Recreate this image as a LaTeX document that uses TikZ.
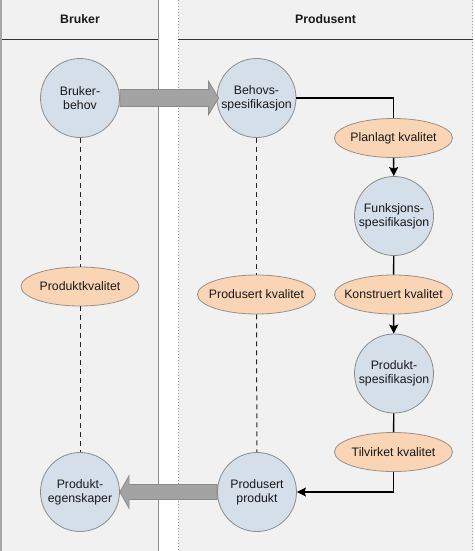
\documentclass[tikz,border=0pt]{standalone}
\usepackage{fontspec}
\setmainfont{Liberation Sans}
\usetikzlibrary{shapes.geometric,arrows.meta,calc}
\definecolor{panebg}{HTML}{F1F1F1}
\definecolor{circfill}{HTML}{D5DFEA}
\definecolor{circline}{HTML}{8C8C8C}
\definecolor{ellfill}{HTML}{F9D4B5}
\definecolor{ellline}{HTML}{9A9088}
\definecolor{bigarr}{HTML}{A3A3A3}
\definecolor{bigarrline}{HTML}{8A8A8A}
\newcommand{\qtext}[1]{\makebox[0pt]{#1}}
\tikzset{
  every node/.style={font=\fontsize{12.3}{13.8}\selectfont, align=center, text=black!90},
  circ/.style={circle, draw=circline, fill=circfill, line width=0.8pt, minimum size=79pt, inner sep=0pt},
  qual/.style={ellipse, draw=ellline, fill=ellfill, line width=0.8pt, minimum width=118pt, minimum height=39pt, inner sep=0pt},
  conn/.style={draw=black, line width=1.4pt},
  connarr/.style={conn, -{Stealth[length=9pt,width=9pt,inset=1.5pt]}},
  dashlink/.style={draw=black!85, line width=1pt, dash pattern=on 5pt off 4pt},
  big/.style={fill=bigarr, draw=bigarrline, line width=0.8pt},
  hdr/.style={font=\bfseries\fontsize{12.3}{14}\selectfont}
}
\begin{document}
\begin{tikzpicture}[x=1pt,y=-1pt]
\useasboundingbox (0,0) rectangle (474,551);
\fill[white] (0,0) rectangle (474,551);
% panes
\fill[panebg] (2,0) rectangle (158,551);
\draw[black!35, line width=2pt] (1,0) -- (1,551);
\draw[black!45, line width=1pt] (158,0) -- (158,551);
\fill[panebg] (178,0) rectangle (472.5,551);
\draw[black!40, line width=1pt, dotted] (178,0) -- (178,551);
\draw[black!40, line width=1pt, dotted] (472.5,0) -- (472.5,551);
\draw[black!80, line width=1.2pt] (2,39.5) -- (158,39.5);
\draw[black!80, line width=1.2pt] (178,39.5) -- (472.5,39.5);
\node[hdr] (hb) at (80,19) {Bruker};
\node[hdr] (hp) at (325.5,19) {Produsent};
% nodes
\node[circ] (bb) at (80,98) {Bruker-\\behov};
\node[circ] (bs) at (256.5,98) {Behovs-\\spesifikasjon};
\node[qual] (pk) at (393.5,138) {\qtext{Planlagt kvalitet}};
\node[circ] (fs) at (394,216) {Funksjons-\\spesifikasjon};
\node[qual] (pkv) at (80,286.5) {\qtext{Produktkvalitet}};
\node[qual] (prk) at (256.5,294.5) {\qtext{Produsert kvalitet}};
\node[qual] (kk) at (393.5,294.5) {\qtext{Konstruert kvalitet}};
\node[circ] (ps) at (394,373.5) {Produkt-\\spesifikasjon};
\node[qual] (tk) at (393.5,452) {\qtext{Tilvirket kvalitet}};
\node[circ] (pe) at (80,492) {Produkt-\\egenskaper};
\node[circ] (pp) at (257,492) {Produsert\\produkt};
% dashed links
\draw[dashlink] (bb) -- (pkv);
\draw[dashlink] (pkv) -- (pe);
\draw[dashlink] (bs) -- (prk);
\draw[dashlink] (prk) -- (pp);
% solid flow
\draw[conn] (bs.east) -| (pk.north);
\draw[connarr] (pk) -- (fs);
\draw[conn] (fs) -- (kk);
\draw[connarr] (kk) -- (ps);
\draw[conn] (ps) -- (tk);
\draw[connarr] (tk.south) |- (pp.east);
% big arrows
\draw[big] ($(bb.east)+(0,-8.5)$) -- ($(bs.west)+(-8,-8.5)$) -- ($(bs.west)+(-8,-16.5)$)
  -- ($(bs.west)+(2,0)$) -- ($(bs.west)+(-8,16.5)$) -- ($(bs.west)+(-8,8.5)$)
  -- ($(bb.east)+(0,8.5)$) -- cycle;
\draw[big] ($(pp.west)+(0,-7.5)$) -- ($(pe.east)+(9,-7.5)$) -- ($(pe.east)+(9,-16)$)
  -- ($(pe.east)+(0,0)$) -- ($(pe.east)+(9,16)$) -- ($(pe.east)+(9,7.5)$)
  -- ($(pp.west)+(0,7.5)$) -- cycle;
\end{tikzpicture}
\end{document}
